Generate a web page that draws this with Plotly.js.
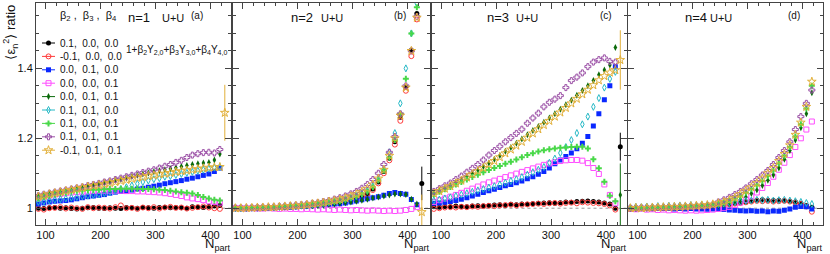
<!DOCTYPE html>
<html><head><meta charset="utf-8">
<script src="https://cdn.plot.ly/plotly-3.0.1.min.js"></script>
<style>html,body{margin:0;padding:0;background:#fff}#chart{width:830px;height:254px}</style>
</head><body><div id="chart"></div>
<script>
// ---------------- data ----------------
const npart = [87,97,107,117,127,137,147,157,167,177,187,197,207,217,227,237,247,257,267,277,287,297,307,317,327,337,347,357,367,377,387,397,407,417];
const npartLast = [426];
const seriesLabels = ['0.1,\u00a0 0.0,\u00a0 0.0','-0.1,\u00a0 0.0,\u00a0 0.0','0.0,\u00a0 0.1,\u00a0 0.0','0.0,\u00a0 0.0,\u00a0 0.1','0.0,\u00a0 0.1,\u00a0 0.1','0.1,\u00a0 0.1,\u00a0 0.0','0.1,\u00a0 0.0,\u00a0 0.1','0.1,\u00a0 0.1,\u00a0 0.1','-0.1,\u00a0 0.1,\u00a0 0.1'];
const panelN = ['n=1','n=2','n=3','n=4'];
const panelTags = ['(a)','(b)','(c)','(d)'];

// n=1
const a_blk = [1.000,0.999,1.001,1.002,1.000,1.001,0.999,0.998,1.000,1.001,1.002,1.000,0.999,1.001,1.000,0.999,1.002,1.001,1.000,1.002,1.001,1.000,1.002,1.003,1.001,1.002,1.001,1.000,1.004,1.003,1.002,1.005,1.006,1.008];
const a_red = [0.998,0.996,1.000,1.001,1.003,0.999,1.002,1.000,0.998,1.003,1.000,1.002,1.001,0.999,1.003,1.008,1.000,1.001,0.998,1.002,1.000,1.003,0.999,1.002,1.004,1.001,1.002,0.999,1.001,1.003,1.005,1.002,1.000,0.998];
const a_blu = [1.012,1.015,1.018,1.020,1.021,1.022,1.024,1.027,1.030,1.033,1.035,1.037,1.039,1.043,1.046,1.048,1.049,1.052,1.055,1.057,1.060,1.063,1.066,1.070,1.073,1.076,1.079,1.083,1.086,1.090,1.094,1.098,1.105,1.115];
const a_mag = [1.030,1.033,1.036,1.039,1.041,1.043,1.045,1.046,1.047,1.048,1.049,1.050,1.050,1.050,1.050,1.050,1.049,1.049,1.048,1.048,1.047,1.046,1.045,1.043,1.041,1.038,1.035,1.031,1.028,1.026,1.023,1.020,1.018,1.016];
const a_dgr = [1.036,1.039,1.042,1.045,1.047,1.049,1.051,1.055,1.058,1.062,1.066,1.070,1.073,1.076,1.080,1.083,1.087,1.091,1.094,1.098,1.101,1.104,1.107,1.110,1.113,1.116,1.119,1.122,1.125,1.127,1.129,1.131,1.138,1.155];
const a_cyn = [1.018,1.020,1.022,1.024,1.026,1.028,1.030,1.032,1.034,1.036,1.038,1.040,1.043,1.046,1.050,1.055,1.060,1.065,1.070,1.075,1.079,1.083,1.086,1.090,1.092,1.095,1.098,1.101,1.104,1.107,1.110,1.113,1.116,1.118];
const a_lgr = [1.028,1.032,1.036,1.040,1.043,1.046,1.048,1.050,1.051,1.052,1.053,1.053,1.054,1.055,1.055,1.056,1.056,1.056,1.056,1.055,1.055,1.054,1.053,1.052,1.050,1.048,1.046,1.044,1.042,1.038,1.032,1.028,1.024,1.022];
const a_pur = [1.036,1.040,1.043,1.046,1.049,1.052,1.055,1.058,1.061,1.065,1.068,1.071,1.075,1.078,1.082,1.086,1.090,1.094,1.098,1.102,1.106,1.110,1.115,1.120,1.125,1.131,1.137,1.145,1.152,1.156,1.159,1.160,1.158,1.168];
const a_gld = [1.033,1.036,1.040,1.043,1.046,1.049,1.052,1.055,1.058,1.061,1.064,1.066,1.069,1.072,1.075,1.078,1.081,1.084,1.087,1.089,1.092,1.094,1.097,1.099,1.101,1.104,1.106,1.108,1.110,1.112,1.114,1.116,1.117,1.118];
// n=2
const b_blk = [1.000,1.000,1.000,1.000,1.001,1.001,1.002,1.002,1.003,1.004,1.005,1.006,1.007,1.008,1.010,1.011,1.013,1.015,1.017,1.019,1.021,1.024,1.028,1.034,1.042,1.055,1.075,1.105,1.143,1.190,1.260,1.346,1.452,1.557];
const b_red = [1.000,1.000,1.000,1.000,1.000,1.001,1.001,1.002,1.003,1.003,1.004,1.005,1.006,1.008,1.009,1.011,1.012,1.014,1.016,1.018,1.020,1.023,1.027,1.032,1.040,1.052,1.071,1.100,1.137,1.182,1.250,1.336,1.435,1.540];
const b_blu = [1.000,1.000,1.000,1.000,1.001,1.001,1.001,1.002,1.002,1.003,1.003,1.004,1.005,1.006,1.007,1.008,1.009,1.010,1.012,1.013,1.015,1.018,1.021,1.024,1.027,1.030,1.033,1.037,1.042,1.045,1.042,1.040,1.025,1.010];
const b_mag = [1.000,1.000,0.999,1.000,0.999,0.999,1.000,0.999,0.998,0.999,0.998,0.998,0.997,0.998,0.997,0.996,0.997,0.996,0.995,0.996,0.995,0.994,0.995,0.994,0.993,0.994,0.993,0.992,0.993,0.992,0.993,0.995,0.998,1.003];
const b_dgr = [1.000,1.000,1.000,1.001,1.001,1.001,1.002,1.002,1.003,1.003,1.004,1.005,1.006,1.006,1.007,1.008,1.009,1.011,1.012,1.014,1.016,1.018,1.020,1.023,1.026,1.029,1.032,1.035,1.038,1.041,1.041,1.039,1.026,1.012];
const b_cyn = [1.000,1.000,1.000,1.001,1.001,1.002,1.002,1.003,1.004,1.005,1.006,1.007,1.008,1.010,1.011,1.013,1.015,1.017,1.020,1.023,1.026,1.030,1.035,1.042,1.050,1.063,1.082,1.112,1.160,1.215,1.300,1.400,1.500,1.585];
const b_lgr = [1.000,1.000,1.000,1.001,1.001,1.002,1.002,1.003,1.004,1.005,1.006,1.007,1.008,1.009,1.011,1.013,1.015,1.017,1.019,1.022,1.025,1.029,1.034,1.040,1.048,1.060,1.080,1.108,1.145,1.195,1.270,1.370,1.500,1.575];
const b_pur = [1.001,1.001,1.001,1.002,1.002,1.003,1.003,1.004,1.005,1.006,1.007,1.009,1.010,1.012,1.014,1.016,1.019,1.022,1.026,1.030,1.035,1.041,1.048,1.057,1.068,1.082,1.100,1.125,1.160,1.205,1.270,1.350,1.450,1.548];
const b_gld = [1.000,1.000,1.001,1.001,1.002,1.002,1.003,1.003,1.004,1.005,1.006,1.007,1.008,1.010,1.012,1.014,1.016,1.019,1.022,1.025,1.029,1.034,1.040,1.047,1.056,1.068,1.085,1.110,1.150,1.200,1.265,1.345,1.450,1.545];
// n=3
const c_blk = [1.004,1.003,1.005,1.004,1.006,1.005,1.004,1.006,1.007,1.006,1.008,1.009,1.010,1.008,1.011,1.010,1.012,1.011,1.013,1.014,1.015,1.016,1.014,1.016,1.018,1.017,1.019,1.020,1.021,1.019,1.018,1.015,1.012,1.000];
const c_red = [0.998,1.000,1.002,1.003,1.002,1.004,1.003,1.005,1.004,1.006,1.007,1.006,1.008,1.009,1.010,1.008,1.010,1.011,1.012,1.013,1.012,1.014,1.015,1.013,1.015,1.016,1.014,1.017,1.016,1.015,1.014,1.012,1.008,0.996];
const c_blu = [1.014,1.015,1.017,1.019,1.022,1.026,1.030,1.035,1.040,1.045,1.050,1.054,1.059,1.064,1.068,1.073,1.078,1.084,1.090,1.097,1.105,1.115,1.127,1.138,1.148,1.158,1.170,1.186,1.205,1.235,1.270,1.310,1.350,1.405];
const c_mag = [1.018,1.023,1.028,1.033,1.038,1.044,1.050,1.056,1.062,1.068,1.074,1.079,1.084,1.089,1.094,1.099,1.104,1.109,1.114,1.119,1.124,1.128,1.132,1.135,1.137,1.138,1.138,1.136,1.129,1.115,1.098,1.068,1.038,1.014];
const c_dgr = [1.044,1.051,1.058,1.066,1.074,1.082,1.091,1.100,1.109,1.119,1.129,1.140,1.151,1.163,1.174,1.186,1.198,1.210,1.222,1.234,1.246,1.258,1.270,1.283,1.296,1.309,1.323,1.337,1.350,1.365,1.382,1.395,1.410,1.460];
const c_cyn = [1.022,1.025,1.028,1.031,1.035,1.039,1.043,1.047,1.051,1.055,1.059,1.063,1.068,1.073,1.078,1.083,1.089,1.096,1.103,1.110,1.118,1.130,1.142,1.158,1.175,1.195,1.215,1.240,1.262,1.290,1.315,1.345,1.370,1.390];
const c_lgr = [1.040,1.047,1.054,1.061,1.068,1.075,1.082,1.089,1.096,1.103,1.109,1.115,1.121,1.127,1.133,1.139,1.146,1.152,1.157,1.162,1.166,1.169,1.171,1.173,1.174,1.175,1.176,1.176,1.171,1.140,1.114,1.076,1.036,1.020];
const c_pur = [1.048,1.056,1.064,1.072,1.082,1.092,1.103,1.114,1.125,1.138,1.152,1.165,1.177,1.190,1.202,1.214,1.226,1.243,1.258,1.272,1.290,1.303,1.312,1.322,1.345,1.365,1.375,1.387,1.405,1.418,1.425,1.430,1.420,1.418];
const c_gld = [1.042,1.049,1.056,1.063,1.071,1.079,1.088,1.097,1.106,1.115,1.125,1.135,1.146,1.157,1.168,1.179,1.190,1.202,1.214,1.226,1.238,1.250,1.262,1.274,1.287,1.300,1.313,1.326,1.339,1.352,1.366,1.378,1.388,1.395];
// n=4
const d_blk = [1.000,1.001,0.999,1.001,1.000,1.002,1.001,1.002,1.001,1.003,1.002,1.004,1.003,1.005,1.006,1.007,1.009,1.010,1.012,1.014,1.016,1.018,1.021,1.023,1.024,1.023,1.022,1.023,1.022,1.020,1.018,1.014,1.008,1.003];
const d_red = [0.999,1.000,1.001,1.000,1.002,1.001,1.000,1.002,1.001,1.002,1.003,1.002,1.004,1.003,1.005,1.006,1.008,1.009,1.011,1.013,1.015,1.017,1.019,1.021,1.020,1.021,1.019,1.020,1.021,1.019,1.016,1.012,1.005,0.990];
const d_blu = [1.000,0.999,1.000,1.000,0.999,1.000,0.999,1.000,0.998,0.999,0.998,0.999,0.998,0.998,0.997,0.998,0.997,0.996,0.995,0.994,0.993,0.992,0.993,0.991,0.992,0.990,0.992,0.991,0.994,0.998,1.003,1.005,1.004,0.998];
const d_mag = [0.998,0.997,0.999,0.996,0.997,0.995,0.996,0.994,0.995,0.994,0.993,0.994,0.993,0.994,0.995,0.996,0.998,1.000,1.004,1.009,1.016,1.024,1.034,1.045,1.058,1.072,1.090,1.110,1.130,1.152,1.175,1.200,1.225,1.248];
const d_dgr = [1.000,1.000,1.001,1.000,1.001,1.001,1.002,1.001,1.002,1.002,1.003,1.003,1.004,1.004,1.005,1.006,1.007,1.009,1.012,1.018,1.025,1.032,1.042,1.052,1.065,1.080,1.095,1.115,1.140,1.165,1.195,1.230,1.270,1.330];
const d_cyn = [1.002,1.004,1.003,1.005,1.004,1.006,1.005,1.007,1.006,1.008,1.007,1.009,1.008,1.010,1.009,1.011,1.012,1.013,1.015,1.017,1.019,1.021,1.022,1.024,1.023,1.024,1.022,1.023,1.024,1.022,1.020,1.018,1.015,1.012];
const d_lgr = [1.000,1.001,1.001,1.002,1.001,1.002,1.003,1.002,1.003,1.004,1.004,1.005,1.006,1.007,1.008,1.010,1.013,1.017,1.022,1.028,1.036,1.045,1.055,1.066,1.078,1.092,1.108,1.128,1.150,1.175,1.205,1.240,1.285,1.350];
const d_pur = [1.000,1.000,1.001,1.001,1.001,1.002,1.002,1.003,1.003,1.004,1.004,1.005,1.006,1.007,1.008,1.010,1.018,1.024,1.031,1.039,1.048,1.058,1.070,1.082,1.095,1.108,1.125,1.145,1.165,1.190,1.225,1.262,1.300,1.338];
const d_gld = [1.000,1.001,1.000,1.001,1.002,1.002,1.003,1.003,1.004,1.004,1.005,1.006,1.007,1.008,1.009,1.011,1.014,1.018,1.023,1.030,1.040,1.050,1.060,1.072,1.085,1.100,1.115,1.135,1.155,1.180,1.210,1.245,1.290,1.362];

// last (most central) bin, shown only where it falls in range
const lastA = [null,null,null,null,null,null,null,null,1.273];
const lastAerr = [0,0,0,0,0,0,0,0,0.080];
const lastB = [1.071,null,null,null,null,null,null,null,0.989];
const lastBerr = [0.048,0,0,0,0,0,0,0,0.050];
const lastC = [1.176,null,null,null,1.038,null,null,null,1.424];
const lastCerr = [0.040,0,0,0,0.090,0,0,0,0.085];
const lastD = [null,null,null,null,null,null,null,null,null];
const lastDerr = [0,0,0,0,0,0,0,0,0];

// ---------------- styles ----------------
const colors = ['#000000','#ff3b3b','#0a28ff','#ff4cff','#0b6a0b','#26b9c6','#48d848','#9b50a6','#e2b03a'];
const symbols = ['circle','circle-open','square','square-open','diamond-tall','diamond-tall-open','cross','cross-open','star-open'];

const panelData = [
  [a_blk,a_red,a_blu,a_mag,a_dgr,a_cyn,a_lgr,a_pur,a_gld],
  [b_blk,b_red,b_blu,b_mag,b_dgr,b_cyn,b_lgr,b_pur,b_gld],
  [c_blk,c_red,c_blu,c_mag,c_dgr,c_cyn,c_lgr,c_pur,c_gld],
  [d_blk,d_red,d_blu,d_mag,d_dgr,d_cyn,d_lgr,d_pur,d_gld]
];
const panelLast = [[lastA,lastAerr],[lastB,lastBerr],[lastC,lastCerr],[lastD,lastDerr]];

// ---------------- geometry ----------------
const L = 36, T = 3, PW = 787, PH = 222;
const panelsPx = [[36,231],[233,429.5],[431.5,626.5],[628,822.7]];
const pxPerUnit = 0.55;
const FONT = 'Liberation Sans, Arial, Helvetica, sans-serif';
const fx = px => (px - L) / PW;
const fy = py => (T + PH - py) / PH;
const yRange = [0.952, 1.587];

const traces = [];
const layout = {
  width: 830, height: 254,
  margin: {l: L, r: 830 - L - PW, t: T, b: 254 - T - PH, pad: 0},
  paper_bgcolor: '#fff', plot_bgcolor: 'rgba(0,0,0,0)',
  showlegend: false, hovermode: false,
  font: {family: FONT, color: '#111'},
  annotations: [], shapes: []
};

function mk(i, s) {
  const open = symbols[s].indexOf('open') >= 0;
  return {symbol: symbols[s], size: symbols[s].indexOf('star') >= 0 ? 6.5 : 5, color: colors[s],
          line: {color: colors[s], width: open ? 1 : 0}};
}

panelsPx.forEach((p, i) => {
  const xa = i === 0 ? 'x' : 'x' + (i + 1);
  const ya = i === 0 ? 'y' : 'y' + (i + 1);
  const r0 = 100 - 9.5 / pxPerUnit;
  const r1 = r0 + (p[1] - p[0]) / pxPerUnit;
  const axCommon = {showline: true, linecolor: '#444', linewidth: 1, mirror: 'ticks',
    ticks: 'inside', tickwidth: 1, tickcolor: '#444', showgrid: false, zeroline: false,
    tickfont: {family: FONT, size: 11, color: '#111'}};
  layout['xaxis' + (i === 0 ? '' : i + 1)] = Object.assign({}, axCommon, {
    domain: [fx(p[0]), fx(p[1])], range: [r0, r1], anchor: ya,
    dtick: 100, tick0: 0, ticklen: 6,
    minor: {ticks: 'inside', dtick: 20, tick0: 0, ticklen: 3, tickcolor: '#444', showgrid: false}
  });
  layout['yaxis' + (i === 0 ? '' : i + 1)] = Object.assign({}, axCommon, {
    domain: [0, 1], range: yRange, anchor: xa,
    dtick: 0.2, tick0: 1, ticklen: 6, showticklabels: i === 0,
    minor: {ticks: 'inside', dtick: 0.05, tick0: 1, ticklen: 3, tickcolor: '#444', showgrid: false}
  });
  layout.shapes.push({type: 'line', xref: xa + ' domain', yref: ya, x0: 0, x1: 1, y0: 1, y1: 1,
    line: {color: '#999', width: 1, dash: 'dot'}, layer: 'below'});

  panelData[i].forEach((ys, s) => {
    traces.push({type: 'scatter', mode: 'markers', x: npart, y: ys, xaxis: xa, yaxis: ya,
      marker: mk(i, s), cliponaxis: true});
  });
  const [lv, le] = panelLast[i];
  lv.forEach((v, s) => {
    if (v === null) return;
    traces.push({type: 'scatter', mode: 'markers', x: npartLast, y: [v], xaxis: xa, yaxis: ya,
      marker: mk(i, s), cliponaxis: true,
      error_y: {type: 'data', array: [le[s]], color: colors[s], thickness: 1, width: 0}});
  });

  layout.annotations.push(
    {xref: 'paper', yref: 'paper', x: fx(p[1] + 1), y: fy(254), xanchor: 'right', yanchor: 'bottom',
     text: 'N<sub>part</sub>', showarrow: false, borderpad: 0, font: {family: FONT, size: 13, color: '#111'}}
  );
});

// panel labels
const nPos = [139, 302, 498, 696];
const uPos = [173, 332, 527, 721];
const tagPos = [197, 400, 606, 794];
panelN.forEach((t, i) => {
  layout.annotations.push({xref: 'paper', yref: 'paper', x: fx(nPos[i]), y: fy(17.5), xanchor: 'center', yanchor: 'middle',
    text: t, showarrow: false, font: {family: FONT, size: 13, color: '#111'}});
  layout.annotations.push({xref: 'paper', yref: 'paper', x: fx(uPos[i]), y: fy(17.5), xanchor: 'center', yanchor: 'middle',
    text: 'U+U', showarrow: false, font: {family: FONT, size: 11, color: '#111'}});
  layout.annotations.push({xref: 'paper', yref: 'paper', x: fx(tagPos[i]), y: fy(15), xanchor: 'center', yanchor: 'middle',
    text: panelTags[i], showarrow: false, font: {family: FONT, size: 10, color: '#111'}});
});

// y title
layout.annotations.push({xref: 'paper', yref: 'paper', x: fx(10), y: 1, xanchor: 'center', yanchor: 'top',
  textangle: -90, text: '\u27e8\u03b5<sub>n</sub><sup>2</sup>\u27e9 ratio', showarrow: false,
  font: {family: FONT, size: 13, color: '#111'}});

// legend header and deformation formula
layout.annotations.push({xref: 'paper', yref: 'paper', x: fx(88), y: fy(16), xanchor: 'center', yanchor: 'middle',
  text: '\u03b2<sub>2</sub> ,\u00a0 \u03b2<sub>3</sub> ,\u00a0 \u03b2<sub>4</sub>', showarrow: false,
  font: {family: FONT, size: 11, color: '#111'}});
layout.annotations.push({xref: 'paper', yref: 'paper', x: fx(176), y: fy(50), xanchor: 'center', yanchor: 'middle',
  text: '1+\u03b2<sub>2</sub>Y<sub>2,0</sub>+\u03b2<sub>3</sub>Y<sub>3,0</sub>+\u03b2<sub>4</sub>Y<sub>4,0</sub>', showarrow: false,
  font: {family: FONT, size: 10, color: '#111'}});

// legend keys on an overlay axis of panel (a): row k at pixel 43 + 13.4k
const rowTop = 43, rowStep = 13.4;
const yTop = (rowTop - T) / rowStep;
layout.xaxis5 = {overlaying: 'x', range: [0, panelsPx[0][1] - panelsPx[0][0]], visible: false, anchor: 'y5', fixedrange: true};
layout.yaxis5 = {overlaying: 'y', range: [yTop - PH / rowStep, yTop], visible: false, anchor: 'x5', fixedrange: true};
seriesLabels.forEach((lab, s) => {
  traces.push({type: 'scatter', mode: 'lines+markers', x: [6, 12.5, 19], y: [-s, -s, -s], xaxis: 'x5', yaxis: 'y5',
    line: {color: colors[s], width: 1}, marker: Object.assign(mk(0, s), {opacity: [0, 1, 0]})});
  layout.annotations.push({xref: 'x5', yref: 'y5', x: 22, y: -s, xanchor: 'left', yanchor: 'middle',
    text: lab, showarrow: false, font: {family: FONT, size: 10, color: '#111'}});
});

Plotly.newPlot('chart', traces, layout, {displayModeBar: false, staticPlot: true});
</script></body></html>
